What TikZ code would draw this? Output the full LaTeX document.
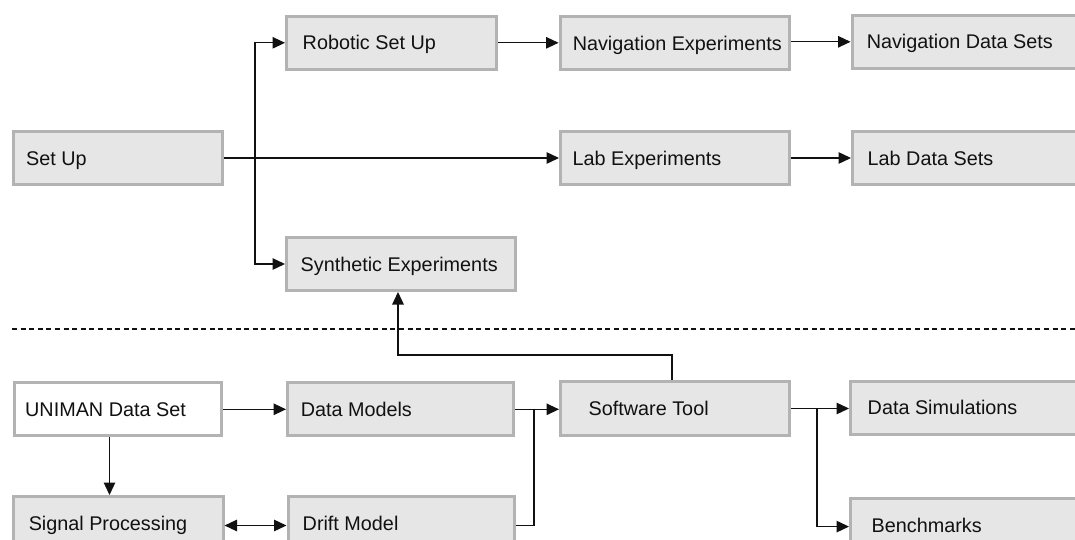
\documentclass[tikz,border=0pt]{standalone}
\usepackage{fontspec}
\setmainfont{Liberation Sans}
\usetikzlibrary{arrows.meta}
\definecolor{boxfill}{HTML}{E6E6E6}
\definecolor{boxline}{HTML}{B3B3B3}
\definecolor{ink}{HTML}{111111}
\begin{document}
\begin{tikzpicture}[x=1pt,y=-1pt,
  box/.style={draw=boxline, fill=boxfill, line width=3pt, rectangle,
    minimum height=53pt, inner sep=0pt},
  whitebox/.style={box, fill=white},
  lbl/.style={anchor=base west, inner sep=0pt, text=ink,
    font=\fontsize{19.8}{23}\selectfont},
  arrow/.style={draw=ink, line width=1.3pt,
    -{Triangle[length=12.5pt,width=11.5pt]}},
  biarrow/.style={draw=ink, line width=1.3pt,
    {Triangle[length=12.5pt,width=11.5pt]}-{Triangle[length=12.5pt,width=11.5pt]}},
  link/.style={draw=ink, line width=1.3pt},
  separator/.style={draw=ink, line width=1.8pt, dash pattern=on 5pt off 3.6pt}]
\useasboundingbox (0,0) rectangle (1075,540);
\clip (0,0) rectangle (1075,540);
\fill[white] (0,0) rectangle (1075,540);

% upper half: experimental set-ups
\node[box, minimum width=209pt] (setup)  at (117.5,158)   {};
\node[box, minimum width=210pt] (robot)  at (391.5,42.8)  {};
\node[box, minimum width=229pt] (synth)  at (401,264)     {};
\node[box, minimum width=229.5pt] (navexp) at (674.8,43)  {};
\node[box, minimum width=229.5pt] (navds)  at (966.8,41.8){};
\node[box, minimum width=229pt] (labexp) at (675,158)     {};
\node[box, minimum width=229pt] (labds)  at (967,158)     {};

% lower half: data and software
\node[whitebox, minimum width=207pt] (uniman) at (118,409.3) {};
\node[box, minimum width=225.5pt] (models) at (400.3,409.3) {};
\node[box, minimum width=209.5pt] (signal) at (118.3,523)  {};
\node[box, minimum width=226pt] (drift)  at (401,523)      {};
\node[box, minimum width=229pt, minimum height=54pt] (tool) at (675,408.5) {};
\node[box, minimum width=229pt] (sim)    at (965,407.6)    {};
\node[box, minimum width=229pt] (bench)  at (965,525)      {};

% labels
\node[lbl] (tsetup)  at ([xshift=14.5pt,yshift=-7.2pt]setup.west)  {Set Up};
\node[lbl] (trobot)  at ([xshift=17.5pt,yshift=-7.2pt]robot.west)  {Robotic Set Up};
\node[lbl] (tsynth)  at ([xshift=15.5pt,yshift=-7.2pt]synth.west)  {Synthetic Experiments};
\node[lbl] (tnavexp) at ([xshift=14pt,yshift=-7.2pt]navexp.west)   {Navigation Experiments};
\node[lbl] (tnavds)  at ([xshift=16pt,yshift=-7.2pt]navds.west)    {Navigation Data Sets};
\node[lbl] (tlabexp) at ([xshift=13.5pt,yshift=-7.2pt]labexp.west) {Lab Experiments};
\node[lbl] (tlabds)  at ([xshift=16.5pt,yshift=-7.2pt]labds.west)  {Lab Data Sets};
\node[lbl] (tuniman) at ([xshift=12pt,yshift=-7.2pt]uniman.west)   {UNIMAN Data Set};
\node[lbl] (tmodels) at ([xshift=14.5pt,yshift=-7.2pt]models.west) {Data Models};
\node[lbl] (tsignal) at ([xshift=16.5pt,yshift=-7.2pt]signal.west) {Signal Processing};
\node[lbl] (tdrift)  at ([xshift=16pt,yshift=-7.2pt]drift.west)    {Drift Model};
\node[lbl] (ttool)   at ([xshift=29.5pt,yshift=-7.2pt]tool.west)   {Software Tool};
\node[lbl] (tsim)    at ([xshift=18.5pt,yshift=-7.2pt]sim.west)    {Data Simulations};
\node[lbl] (tbench)  at ([xshift=22.5pt,yshift=-7.2pt]bench.west)  {Benchmarks};

% separator between the two halves
\draw[separator] (12,329) -- (1075,329);

% set-up branches
\coordinate (split) at ([xshift=31.5pt]setup.east);
\draw[arrow] (setup.east) -- (labexp.west);
\draw[arrow] (split) |- (robot.west);
\draw[arrow] (split) |- (synth.west);
\draw[arrow] (robot.east) -- (robot.east -| navexp.west);
\draw[arrow] (navexp.east |- navds.west) -- (navds.west);
\draw[arrow] (labexp.east) -- (labds.west);

% data flow
\draw[arrow] (uniman.east) -- (models.west);
\draw[arrow] ([xshift=-8.5pt]uniman.south) -- ([xshift=-8.5pt]uniman.south |- signal.north);
\draw[biarrow] ([yshift=-2.5pt]signal.east) -- ([yshift=-2.5pt]drift.west);
\coordinate (merge) at ([xshift=19.5pt]models.east);
\draw[arrow] (models.east) -- (models.east -| tool.west);
\draw[link] ([yshift=-2.5pt]drift.east) -| (merge);
\draw[arrow] ([xshift=-3pt]tool.north) -- ++(0,-25) -| ([xshift=-3pt]synth.south);
\coordinate (fork) at ([xshift=26pt]tool.east);
\draw[arrow] (tool.east) -- (tool.east -| sim.west);
\draw[arrow] (fork) |- ([yshift=-1.6pt]bench.west);
\end{tikzpicture}
\end{document}
